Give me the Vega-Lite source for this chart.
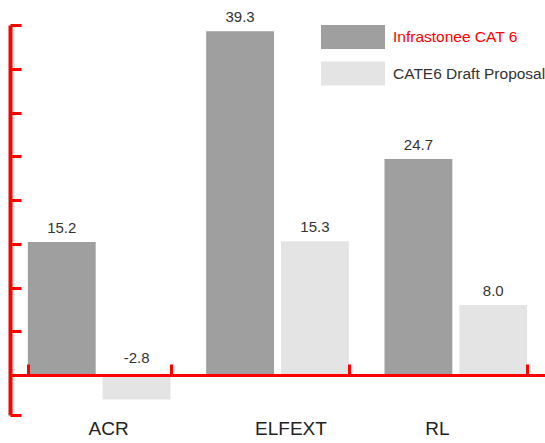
{
  "$schema": "https://vega.github.io/schema/vega-lite/v6.json",
  "width": 535,
  "height": 390,
  "autosize": {"type": "none"},
  "padding": {"left": 10, "top": 25, "right": 0, "bottom": 28},
  "background": "white",
  "config": {"view": {"stroke": null}, "font": "Liberation Sans"},
  "data": {"values": [
    {"metric": "ACR", "series": "Infrastonee CAT 6", "value": 15.2},
    {"metric": "ACR", "series": "CATE6 Draft Proposal", "value": -2.8},
    {"metric": "ELFEXT", "series": "Infrastonee CAT 6", "value": 39.3},
    {"metric": "ELFEXT", "series": "CATE6 Draft Proposal", "value": 15.3},
    {"metric": "RL", "series": "Infrastonee CAT 6", "value": 24.7},
    {"metric": "RL", "series": "CATE6 Draft Proposal", "value": 8.0}
  ]},
  "encoding": {
    "x": {"field": "metric", "type": "nominal", "sort": ["ACR", "ELFEXT", "RL"],
      "scale": {"paddingInner": 0.2, "paddingOuter": 0.1},
      "axis": {"title": null, "labelAngle": 0, "offset": -40, "zindex": 1,
        "domainColor": "#ff0000", "domainWidth": 3, "tickColor": "#ff0000", "tickWidth": 3,
        "tickSize": -11, "tickBand": "extent", "labelFontSize": 19, "labelColor": "#222222",
        "labelOffset": {"expr": "datum.value == 'ACR' ? 9 : datum.value == 'ELFEXT' ? 13 : -19"},
        "labelPadding": 55, "grid": false}},
    "xOffset": {"field": "series", "type": "nominal", "sort": ["Infrastonee CAT 6", "CATE6 Draft Proposal"],
      "scale": {"paddingInner": 0.093, "paddingOuter": 0}}
  },
  "layer": [
    {
      "mark": {"type": "bar"},
      "encoding": {
        "y": {"field": "value", "type": "quantitative",
          "scale": {"domain": [-4.571, 40], "nice": false, "zero": false},
          "axis": {"title": null, "labels": false, "grid": false, "zindex": 1,
            "values": [-4.571, 0, 5, 10, 15, 20, 25, 30, 35, 40],
            "domainColor": "#ff0000", "domainWidth": 4, "tickColor": "#ff0000", "tickWidth": 3, "tickSize": -11}},
        "color": {"field": "series", "type": "nominal", "sort": ["Infrastonee CAT 6", "CATE6 Draft Proposal"],
          "scale": {"range": ["#9f9f9f", "#e4e4e4"]},
          "legend": {"title": null, "orient": "none", "legendX": 331, "legendY": 0, "padding": 0,
            "symbolType": "M-2.667,-1H2.667V1H-2.667Z", "symbolSize": 576, "symbolStrokeWidth": 0,
            "labelFontSize": 15.5, "labelOffset": 28, "rowPadding": 12.5, "labelLimit": 300,
            "encode": {"labels": {"update": {"fill": {"signal": "datum.label == 'Infrastonee CAT 6' ? '#ff0000' : '#333333'"}}}}}}
      }
    },
    {
      "transform": [{"filter": "datum.value >= 0"}],
      "mark": {"type": "text", "baseline": "bottom", "dy": -6, "fontSize": 15, "color": "#333333"},
      "encoding": {
        "y": {"field": "value", "type": "quantitative"},
        "text": {"field": "value", "type": "quantitative", "format": ".1f"}
      }
    },
    {
      "transform": [{"filter": "datum.value < 0"}],
      "mark": {"type": "text", "baseline": "bottom", "dy": -9, "fontSize": 15, "color": "#333333"},
      "encoding": {
        "y": {"datum": 0, "type": "quantitative"},
        "text": {"field": "value", "type": "nominal"}
      }
    }
  ]
}
